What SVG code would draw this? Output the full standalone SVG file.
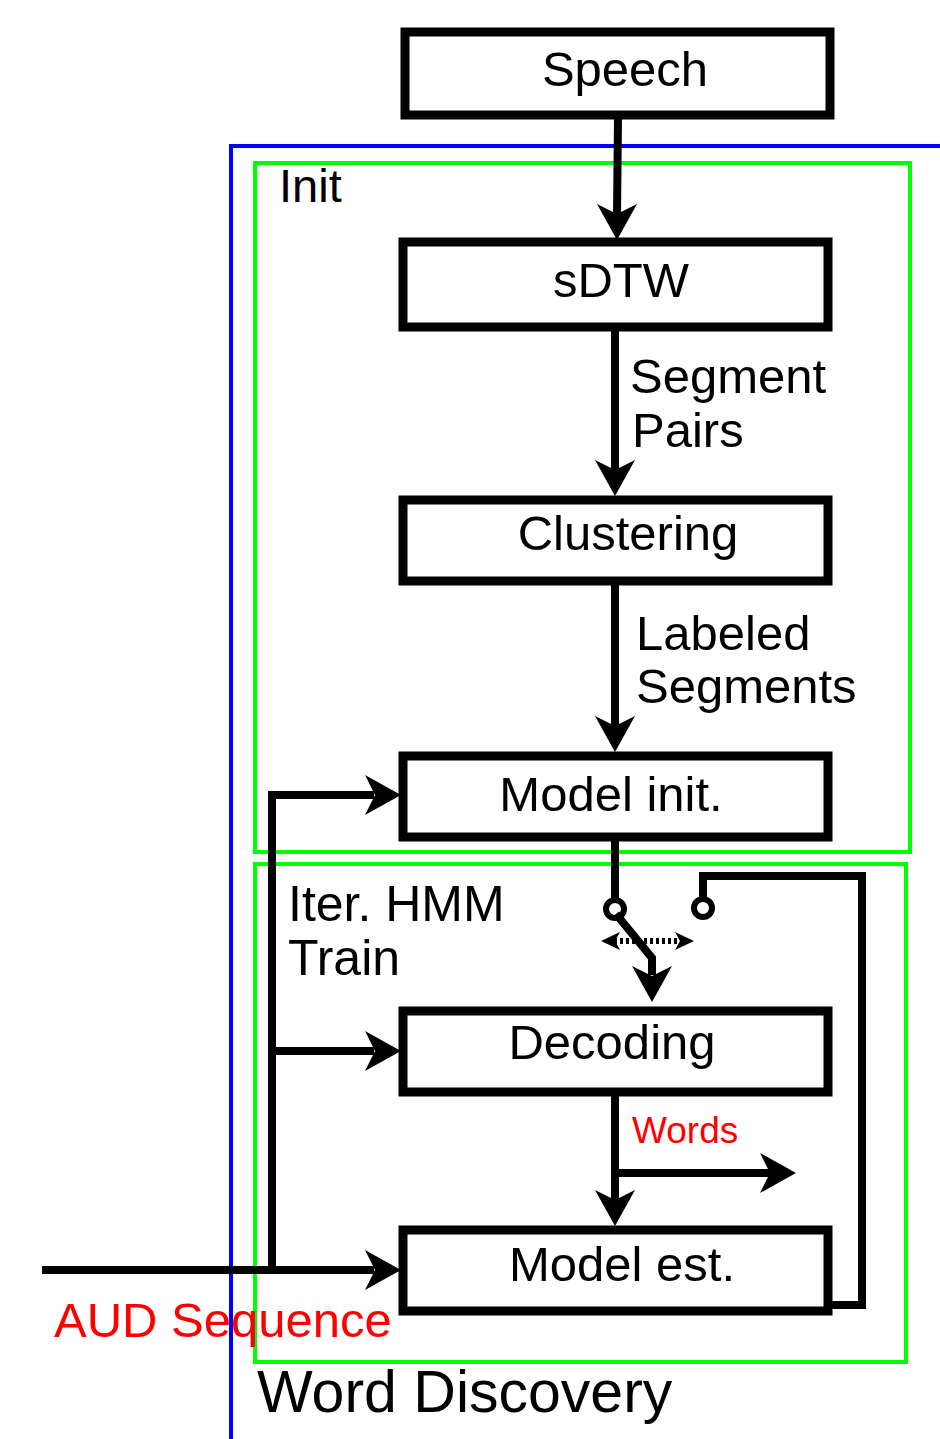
<svg xmlns="http://www.w3.org/2000/svg" width="940" height="1439" viewBox="0 0 940 1439">
<style>
.box{fill:#fff;stroke:#000;stroke-width:9}
.t{font-family:"Liberation Sans",Arial,sans-serif;font-size:49px;fill:#000}
.c{text-anchor:middle}
.red{fill:#f00}
.ln{fill:none;stroke:#000;stroke-width:8}
.grp{fill:none;stroke-width:4}
</style>
<defs>
<path id="ahp" d="M0,0 L-36,-20 L-26,0 L-36,20 Z"/>
</defs>
<g id="groups">
<rect class="grp" x="231" y="146" width="720" height="1310" stroke="#00f"/>
<rect class="grp" x="255" y="163" width="655" height="689" stroke="#0f0"/>
<rect class="grp" x="255" y="864" width="651" height="498" stroke="#0f0"/>
</g>
<g id="connectors">
<path class="ln" d="M618,118 L617,215"/>
<use href="#ahp" transform="translate(617,240) rotate(90)"/>
<path class="ln" d="M615,330 L615,470"/>
<use href="#ahp" transform="translate(615,496) rotate(90)"/>
<path class="ln" d="M615,585 L615,726"/>
<use href="#ahp" transform="translate(615,752) rotate(90)"/>
<path class="ln" d="M615,840 L615,901"/>
<circle cx="615" cy="909" r="9" fill="#fff" stroke="#000" stroke-width="6"/>
<path class="ln" d="M616,914 L652,958 L652,975"/>
<use href="#ahp" transform="translate(652,1002) rotate(90)"/>
<path d="M614,941 L681,941" fill="none" stroke="#000" stroke-width="6" stroke-dasharray="3,3"/>
<path d="M601,941 L620,932 L615,941 L620,950 Z"/>
<path d="M694,941 L675,932 L680,941 L675,950 Z"/>
<circle cx="703" cy="908" r="9" fill="#fff" stroke="#000" stroke-width="6"/>
<path class="ln" d="M703,899 L703,876 L862,876 L862,1305 L830,1305"/>
<path class="ln" d="M615,1095 L615,1200"/>
<use href="#ahp" transform="translate(615,1226) rotate(90)"/>
<path class="ln" d="M615,1173 L770,1173"/>
<use href="#ahp" transform="translate(796,1173)"/>
<path class="ln" d="M42,1270 L374,1270"/>
<use href="#ahp" transform="translate(401,1270)"/>
<path class="ln" d="M272,1270 L272,795 L374,795"/>
<use href="#ahp" transform="translate(401,795)"/>
<path class="ln" d="M272,1051 L374,1051"/>
<use href="#ahp" transform="translate(401,1051)"/>
</g>
<g id="speech"><rect class="box" x="405" y="32" width="425" height="83"/><text class="t c" x="625" y="86">Speech</text></g>
<g id="sdtw"><rect class="box" x="403" y="242" width="425" height="85"/><text class="t c" x="621" y="297">sDTW</text></g>
<g id="clustering"><rect class="box" x="403" y="500" width="425" height="81"/><text class="t c" x="628" y="550">Clustering</text></g>
<g id="modelinit"><rect class="box" x="403" y="756" width="425" height="81"/><text class="t c" x="611" y="811">Model init.</text></g>
<g id="decoding"><rect class="box" x="403" y="1011" width="425" height="81"/><text class="t c" x="612" y="1059">Decoding</text></g>
<g id="modelest"><rect class="box" x="403" y="1230" width="425" height="81"/><text class="t c" x="622" y="1281">Model est.</text></g>
<g id="labels">
<text class="t" x="630" y="393">Segment</text>
<text class="t" x="632" y="447">Pairs</text>
<text class="t" x="636" y="650">Labeled</text>
<text class="t" x="636" y="703">Segments</text>
<text class="t" x="279" y="202" style="font-size:47px">Init</text>
<text class="t" x="288" y="921" style="font-size:50px">Iter. HMM</text>
<text class="t" x="288" y="975" style="font-size:50px">Train</text>
<text class="t red" x="632" y="1143" style="font-size:37px">Words</text>
<text class="t red" x="54" y="1337">AUD Sequence</text>
<text class="t" x="257" y="1412" style="font-size:59px">Word Discovery</text>
</g>
</svg>
